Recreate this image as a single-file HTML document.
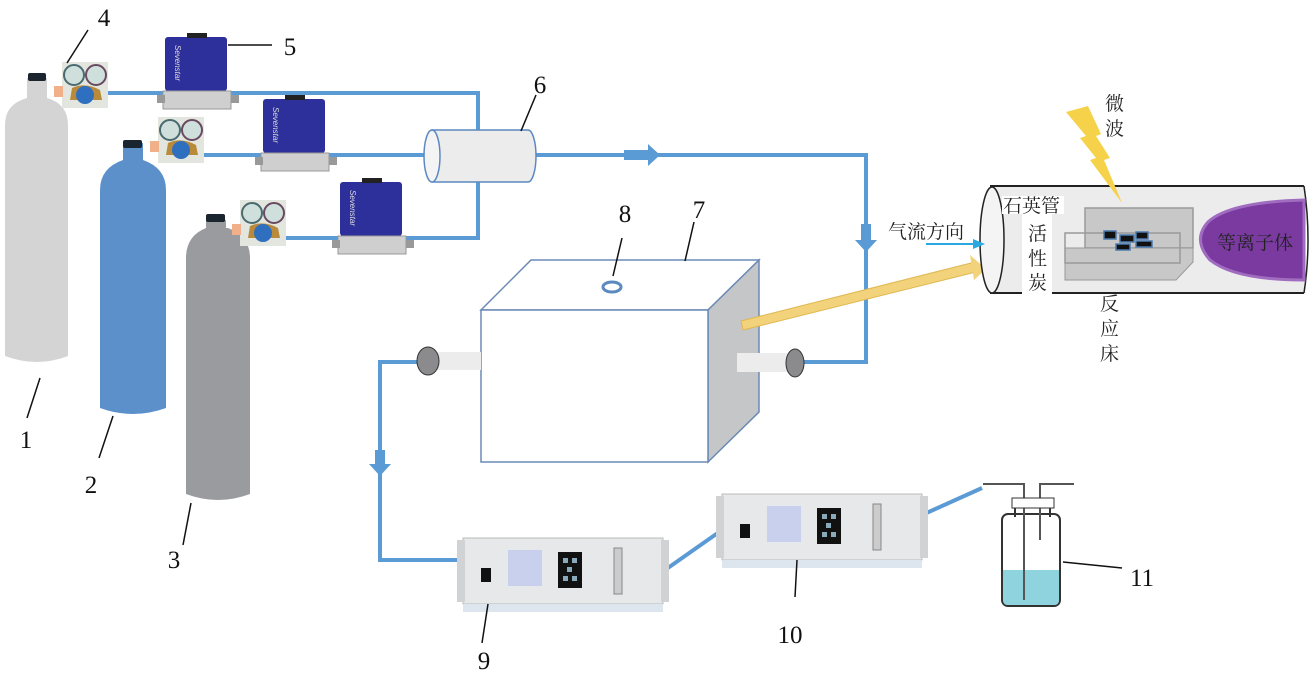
<!DOCTYPE html>
<html><head><meta charset="utf-8"><style>
html,body{margin:0;padding:0;background:#fff;}
svg{display:block;}
.n{font-family:"Liberation Serif",serif;font-size:25px;fill:#111;}
.c{font-family:"Liberation Serif","Noto Serif CJK SC",serif;font-size:19px;fill:#222;}
</style></head><body>
<svg width="1313" height="680" viewBox="0 0 1313 680" xmlns="http://www.w3.org/2000/svg">
<defs>
<g id="reg">
<rect x="0" y="0" width="46" height="46" fill="#e3e6df"/>
<circle cx="12" cy="13" r="10" fill="#cfe0dc" stroke="#4a6a70" stroke-width="2"/>
<circle cx="34" cy="13" r="10" fill="#cfe0dc" stroke="#6a4a60" stroke-width="2"/>
<path d="M10 26 Q23 20 38 28 L40 38 L8 38 Z" fill="#b88a3a"/>
<circle cx="23" cy="33" r="9" fill="#2f6fc0"/>
<rect x="-8" y="24" width="9" height="11" fill="#f2b08a"/>
</g>
<g id="mfc">
<rect x="0" y="0" width="62" height="54" rx="3" fill="#2d2f9a"/>
<rect x="22" y="-4" width="20" height="5" fill="#222"/>
<text x="10" y="8" transform="rotate(90 10 8)" font-family="Liberation Sans" font-size="8" font-style="italic" fill="#ddd">Sevenstar</text>
<rect x="-2" y="54" width="68" height="18" fill="#cfcfcf" stroke="#999"/>
<rect x="-8" y="58" width="8" height="8" fill="#999"/>
<rect x="66" y="58" width="8" height="8" fill="#999"/>
</g>
<g id="ana">
<rect x="0" y="0" width="200" height="66" fill="#e6e8ea" stroke="#bbb"/>
<rect x="-6" y="2" width="8" height="62" fill="#d0d2d4"/>
<rect x="198" y="2" width="8" height="62" fill="#d0d2d4"/>
<rect x="45" y="12" width="34" height="36" fill="#c9d0ee"/>
<rect x="95" y="14" width="24" height="36" fill="#111"/>
<rect x="100" y="20" width="5" height="5" fill="#8ab"/><rect x="109" y="20" width="5" height="5" fill="#8ab"/>
<rect x="104" y="29" width="5" height="5" fill="#8ab"/><rect x="100" y="38" width="5" height="5" fill="#8ab"/><rect x="109" y="38" width="5" height="5" fill="#8ab"/>
<rect x="18" y="30" width="10" height="14" fill="#111"/>
<rect x="151" y="10" width="8" height="46" fill="#ccc" stroke="#888"/>
<rect x="0" y="66" width="200" height="8" fill="#dde6ee"/>
</g>
</defs>

<g fill="none" stroke="#5b9bd5" stroke-width="4">
<polyline points="108,93 478,93 478,238 283,238"/>
<polyline points="204,155 866,155 866,362 800,362"/>
<polyline points="418,362 380,362 380,560 465,560"/>
<line x1="665" y1="570" x2="722" y2="530"/>
<line x1="922" y1="515" x2="982" y2="488"/>
</g>
<path d="M624 150 h24 v-6 l12 11 -12 11 v-6 h-24z" fill="#5b9bd5"/>
<path d="M861 224 v16 h-6 l11 12 11 -12 h-6 v-16z" fill="#5b9bd5"/>
<path d="M375 450 v14 h-6 l11 12 11 -12 h-6 v-14z" fill="#5b9bd5"/>

<path d="M27 98 Q5 104 5 125 V356 Q37 368 68 356 V125 Q68 104 47 98 Z" fill="#d4d4d4"/>
<rect x="27" y="78" width="20" height="20" fill="#d4d4d4"/>
<rect x="28" y="73" width="18" height="8" rx="2" fill="#1a2530"/>
<path d="M123 160 Q100 168 100 190 V408 Q133 420 166 408 V190 Q166 168 143 160 Z" fill="#5b90cb"/>
<rect x="123" y="143" width="20" height="20" fill="#5b90cb"/>
<rect x="123" y="140" width="19" height="8" rx="2" fill="#1a2530"/>
<path d="M206 228 Q186 236 186 258 V494 Q218 506 250 494 V258 Q250 236 228 228 Z" fill="#9a9b9e"/>
<rect x="206" y="220" width="20" height="12" fill="#9a9b9e"/>
<rect x="206" y="214" width="19" height="8" rx="2" fill="#1a2530"/>

<use href="#reg" x="62" y="62"/>
<use href="#reg" x="158" y="117"/>
<use href="#reg" x="240" y="200"/>
<use href="#mfc" x="165" y="37"/>
<use href="#mfc" x="263" y="99"/>
<use href="#mfc" x="340" y="182"/>

<path d="M432 130 H528 A8 26 0 0 1 528 182 H432 Z" fill="#ececec" stroke="#5b8ac0" stroke-width="1.5"/>
<ellipse cx="432" cy="156" rx="8" ry="26" fill="#f4f4f4" stroke="#5b8ac0" stroke-width="1.5"/>

<polygon points="481,310 531,260 759,260 708,310" fill="#fff" stroke="#6a8ab5" stroke-width="1.5"/>
<polygon points="708,310 759,260 759,412 708,462" fill="#c5c6c8" stroke="#6a8ab5" stroke-width="1.5"/>
<rect x="481" y="310" width="227" height="152" fill="#fff" stroke="#6a8ab5" stroke-width="1.5"/>
<ellipse cx="612" cy="287" rx="9" ry="5" fill="none" stroke="#5b8ac0" stroke-width="3"/>
<rect x="428" y="352" width="53" height="18" fill="#ececec"/>
<ellipse cx="428" cy="361" rx="11" ry="14" fill="#8b8b8d" stroke="#333"/>
<rect x="737" y="353" width="58" height="19" fill="#ececec"/>
<ellipse cx="795" cy="363" rx="9" ry="14" fill="#8b8b8d" stroke="#333"/>
<polygon points="741,321 975,262 976,272 743,330" fill="#f2d27a" stroke="#e0b850"/>
<polygon points="970,255 986,269 974,280" fill="#f2d27a"/>

<rect x="990" y="186" width="314" height="107" fill="#ececec"/>
<line x1="990" y1="186" x2="1304" y2="186" stroke="#222" stroke-width="2"/>
<line x1="990" y1="293" x2="1304" y2="293" stroke="#222" stroke-width="2"/>
<path d="M1304 186 Q1312 240 1304 293" fill="none" stroke="#222" stroke-width="1.5"/>
<path d="M1304 200 Q1230 202 1208 222 Q1192 240 1210 260 Q1235 280 1304 280 Z" fill="#7a3aa0" stroke="#a06cc0" stroke-width="3"/>
<ellipse cx="992" cy="240" rx="12" ry="53" fill="#f4f4f4" stroke="#222" stroke-width="1.5"/>
<rect x="1002" y="196" width="62" height="18" fill="#fff"/>
<rect x="1022" y="214" width="30" height="80" fill="#fff"/>
<rect x="1085" y="208" width="108" height="40" fill="#c8c8c8" stroke="#999" stroke-width="1.5"/>
<polygon points="1065,248 1193,248 1193,262 1176,280 1065,280" fill="#c8c8c8" stroke="#999"/>
<rect x="1065" y="233" width="115" height="30" fill="none" stroke="#999" stroke-width="1.5"/>
<g fill="#111" stroke="#4a7ab0" stroke-width="1.5">
<rect x="1104" y="231" width="12" height="8"/><rect x="1120" y="235" width="14" height="7"/><rect x="1136" y="232" width="12" height="7"/>
<rect x="1116" y="244" width="14" height="6"/><rect x="1136" y="241" width="16" height="6"/>
</g>
<polygon points="1066,112 1088,106 1101,134 1096,136 1110,158 1104,160 1122,203 1090,160 1096,158 1080,138 1086,136" fill="#f5d24a"/>
<line x1="926" y1="244" x2="980" y2="244" stroke="#2aa8e0" stroke-width="2"/>
<polygon points="973,239 985,244 973,249" fill="#2aa8e0"/>

<use href="#ana" x="463" y="538"/>
<use href="#ana" x="722" y="494"/>

<g fill="none" stroke="#333" stroke-width="2">
<path d="M1015 517 V508 Q1015 500 1022 500 H1044 Q1050 500 1050 508 V517"/>
<rect x="1002" y="514" width="58" height="92" rx="6"/>
</g>
<path d="M1003 570 H1059 V600 Q1059 605 1054 605 H1008 Q1003 605 1003 600Z" fill="#8fd3de"/>
<polyline points="983,484 1024,484 1024,600" fill="none" stroke="#555" stroke-width="2"/>
<polyline points="1074,484 1040,484 1040,540" fill="none" stroke="#555" stroke-width="2"/>
<rect x="1012" y="498" width="42" height="10" fill="#fff" stroke="#333"/>

<g stroke="#111" stroke-width="1.5">
<line x1="40" y1="378" x2="27" y2="418"/>
<line x1="113" y1="416" x2="99" y2="458"/>
<line x1="191" y1="503" x2="183" y2="545"/>
<line x1="88" y1="30" x2="67" y2="63"/>
<line x1="228" y1="45" x2="272" y2="45"/>
<line x1="536" y1="95" x2="521" y2="131"/>
<line x1="622" y1="238" x2="613" y2="276"/>
<line x1="694" y1="222" x2="685" y2="261"/>
<line x1="488" y1="604" x2="482" y2="643"/>
<line x1="797" y1="560" x2="795" y2="597"/>
<line x1="1063" y1="562" x2="1122" y2="568"/>
</g>
<text class="n" x="26" y="448" text-anchor="middle">1</text>
<text class="n" x="91" y="493" text-anchor="middle">2</text>
<text class="n" x="174" y="568" text-anchor="middle">3</text>
<text class="n" x="104" y="26" text-anchor="middle">4</text>
<text class="n" x="290" y="55" text-anchor="middle">5</text>
<text class="n" x="540" y="93" text-anchor="middle">6</text>
<text class="n" x="699" y="218" text-anchor="middle">7</text>
<text class="n" x="625" y="222" text-anchor="middle">8</text>
<text class="n" x="484" y="669" text-anchor="middle">9</text>
<text class="n" x="790" y="643" text-anchor="middle">10</text>
<text class="n" x="1142" y="586" text-anchor="middle">11</text>

<text class="c" x="888" y="238">气流方向</text>
<text class="c" x="1003" y="212">石英管</text>
<text class="c" x="1028" y="240">活</text>
<text class="c" x="1028" y="265">性</text>
<text class="c" x="1028" y="289">炭</text>
<text class="c" x="1105" y="110">微</text>
<text class="c" x="1105" y="135">波</text>
<text class="c" x="1100" y="310">反</text>
<text class="c" x="1100" y="335">应</text>
<text class="c" x="1100" y="360">床</text>
<text class="c" x="1217" y="249" style="fill:#222">等离子体</text>
</svg>
</body></html>
